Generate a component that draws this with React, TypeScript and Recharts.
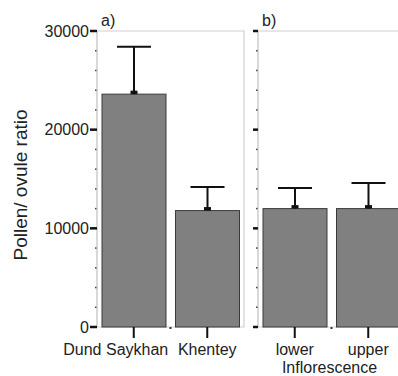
import { BarChart, Bar, XAxis, YAxis, ReferenceArea } from "recharts";

const sitesA = ["Dund Saykhan", "Khentey"];
const meansA = [23600, 11800];
const upperA = [28400, 14200];

const sitesB = ["lower", "upper"];
const meansB = [12000, 12000];
const upperB = [14100, 14600];

const yTicks = [0, 2000, 4000, 6000, 8000, 10000, 12000, 14000, 16000, 18000, 20000, 22000, 24000, 26000, 28000, 30000];
const majorTicks = [0, 10000, 20000, 30000];

const dataA = sitesA.map((name, i) => ({ name, mean: meansA[i], upper: upperA[i] }));
const dataB = sitesB.map((name, i) => ({ name, mean: meansB[i], upper: upperB[i] }));

const FONT = "'Liberation Sans', Arial, sans-serif";
const TEXT = "#222";

// the long first label sits left of its tick in the original
const labelShift: Record<string, number> = { "Dund Saykhan": -18 };

const BarWithError = (props: any) => {
  const { x, y, width, height, payload } = props;
  const perUnit = height / payload.mean;
  const top = y - (payload.upper - payload.mean) * perUnit;
  const cx = x + width / 2;
  return (
    <g>
      <rect x={x} y={y} width={width} height={height} fill="#808080" stroke="#3a3a3a" strokeWidth={1} />
      <line x1={cx} y1={y} x2={cx} y2={top} stroke="#111" strokeWidth={2} />
      <line x1={cx - 17} y1={top} x2={cx + 17} y2={top} stroke="#111" strokeWidth={2} />
      <rect x={cx - 3.5} y={y - 3.5} width={7} height={3.5} fill="#111" />
    </g>
  );
};

const makeYTick = (showLabel: boolean, len: number) => (props: any) => {
  const { x, y, payload } = props;
  const major = majorTicks.includes(payload.value);
  if (!major) {
    return <rect x={x - 2} y={y - 0.75} width={1.5} height={1.5} fill="#444" />;
  }
  return (
    <g>
      <line x1={x - len} y1={y} x2={x} y2={y} stroke="#111" strokeWidth={2.5} />
      {showLabel && (
        <text x={x - len - 1} y={y} textAnchor="end" dominantBaseline="central" fontSize={16} fontFamily={FONT} fill={TEXT}>
          {payload.value}
        </text>
      )}
    </g>
  );
};

const XTick = (props: any) => {
  const { x, y, payload, index, visibleTicksCount } = props;
  const off = payload.offset ?? 0;
  const dx = labelShift[payload.value] ?? 0;
  return (
    <g>
      <line x1={x} y1={y} x2={x} y2={y + 11} stroke="#111" strokeWidth={2} />
      {index < (visibleTicksCount ?? 2) - 1 && (
        <rect x={x + off - 1} y={y} width={2} height={2} fill="#333" />
      )}
      <text x={x + dx} y={y + 28} textAnchor="middle" fontSize={16} fontFamily={FONT} fill={TEXT}>
        {payload.value}
      </text>
    </g>
  );
};

const PanelLabel = (text: string) => (props: any) => {
  const vb = props.viewBox;
  return (
    <text x={vb.x + 4} y={vb.y - 5} fontSize={16} fontFamily={FONT} fill={TEXT}>
      {text}
    </text>
  );
};

const YTitle = (props: any) => {
  const vb = props.viewBox;
  const cx = vb.x + 27;
  const cy = 185;
  return (
    <text x={cx} y={cy} transform={`rotate(-90 ${cx} ${cy})`} textAnchor="middle" fontSize={19} fontFamily={FONT} fill={TEXT}>
      Pollen/ ovule ratio
    </text>
  );
};

const XTitle = (props: any) => {
  const vb = props.viewBox;
  return (
    <text x={vb.x + vb.width / 2 - 2} y={vb.y + 46} textAnchor="middle" fontSize={16} fontFamily={FONT} fill={TEXT}>
      Inflorescence
    </text>
  );
};

export default function App() {
  return (
    <div style={{ position: "absolute", left: 0, top: 0, width: 398, height: 376, overflow: "hidden", background: "#fff" }}>
      <div style={{ position: "absolute", left: 0, top: 0 }}>
        <BarChart width={250} height={376} data={dataA} margin={{ top: 31, right: 6, bottom: 0, left: 0 }} barCategoryGap={5}>
          <ReferenceArea y1={0} y2={30000} fill="none" stroke="#cfcfcf" strokeWidth={1.2} ifOverflow="visible" label={PanelLabel("a)")} />
          <XAxis dataKey="name" height={49} tickSize={0} tickMargin={0} axisLine={false} tickLine={false} tick={XTick} interval={0} />
          <YAxis
            width={97}
            domain={[0, 30000]}
            ticks={yTicks}
            interval={0}
            tickSize={0}
            tickMargin={0}
            tickLine={false}
            axisLine={{ stroke: "#cfcfcf" }}
            tick={makeYTick(true, 7)}
            label={YTitle}
          />
          <Bar dataKey="mean" shape={BarWithError} isAnimationActive={false} />
        </BarChart>
      </div>
      <div style={{ position: "absolute", left: 248, top: 0 }}>
        <BarChart width={163} height={376} data={dataB} margin={{ top: 31, right: 6, bottom: 0, left: 0 }} barCategoryGap={5}>
          <ReferenceArea y1={0} y2={30000} fill="none" stroke="#cfcfcf" strokeWidth={1.2} ifOverflow="visible" label={PanelLabel("b)")} />
          <XAxis dataKey="name" height={49} tickSize={0} tickMargin={0} axisLine={false} tickLine={false} tick={XTick} interval={0} label={XTitle} />
          <YAxis
            width={10}
            domain={[0, 30000]}
            ticks={yTicks}
            interval={0}
            tickSize={0}
            tickMargin={0}
            tickLine={false}
            axisLine={{ stroke: "#cfcfcf" }}
            tick={makeYTick(false, 5)}
          />
          <Bar dataKey="mean" shape={BarWithError} isAnimationActive={false} />
        </BarChart>
      </div>
    </div>
  );
}
